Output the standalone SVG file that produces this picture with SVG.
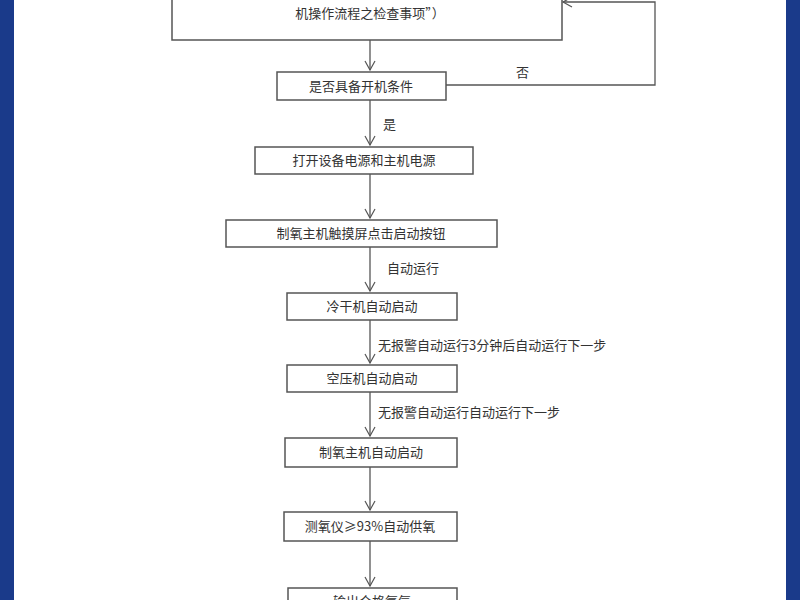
<svg xmlns="http://www.w3.org/2000/svg" width="800" height="600" viewBox="0 0 800 600">
<defs>
<marker id="ah" markerWidth="12" markerHeight="12" refX="10" refY="6" orient="auto" markerUnits="userSpaceOnUse">
<path d="M1,1 L10,6 L1,11" fill="none" stroke="#555" stroke-width="1.2"/>
</marker>
<style>
.b{fill:#fff;stroke:#555;stroke-width:1.5}
.t{font-family:"Noto Sans CJK SC",sans-serif;font-size:13px;fill:#333;text-anchor:middle}
.l{font-family:"Noto Sans CJK SC",sans-serif;font-size:13px;fill:#333}
.c{fill:none;stroke:#555;stroke-width:1.3}
</style>
</defs>
<rect width="800" height="600" fill="#fff"/>
<rect x="0" y="0" width="14" height="600" fill="#1a3a8a"/>
<rect x="786" y="0" width="14" height="600" fill="#1a3a8a"/>
<g id="connectors">
<path class="c" d="M370,40 V70" marker-end="url(#ah)"/>
<path class="c" d="M446,85 H655 V2 H563" marker-end="url(#ah)"/>
<path class="c" d="M370,100 V145" marker-end="url(#ah)"/>
<path class="c" d="M370,174 V218" marker-end="url(#ah)"/>
<path class="c" d="M370,247 V291" marker-end="url(#ah)"/>
<path class="c" d="M370,320 V363" marker-end="url(#ah)"/>
<path class="c" d="M370,392 V436" marker-end="url(#ah)"/>
<path class="c" d="M370,467 V510" marker-end="url(#ah)"/>
<path class="c" d="M370,541 V586" marker-end="url(#ah)"/>
<text class="l" x="516" y="77">否</text>
<text class="l" x="383" y="129">是</text>
<text class="l" x="387" y="273">自动运行</text>
<text class="l" x="378" y="350">无报警自动运行3分钟后自动运行下一步</text>
<text class="l" x="378" y="417">无报警自动运行自动运行下一步</text>
</g>
<g id="n0"><rect class="b" x="172" y="-20" width="390" height="60"/><text class="t" x="370" y="18">机操作流程之检查事项”）</text></g>
<g id="n1"><rect class="b" x="277" y="72" width="169" height="28"/><text class="t" x="361" y="91">是否具备开机条件</text></g>
<g id="n2"><rect class="b" x="255" y="147" width="218" height="27"/><text class="t" x="364" y="165">打开设备电源和主机电源</text></g>
<g id="n3"><rect class="b" x="226" y="220" width="271" height="27"/><text class="t" x="361" y="238">制氧主机触摸屏点击启动按钮</text></g>
<g id="n4"><rect class="b" x="287" y="293" width="170" height="27"/><text class="t" x="372" y="311">冷干机自动启动</text></g>
<g id="n5"><rect class="b" x="287" y="365" width="170" height="27"/><text class="t" x="372" y="383">空压机自动启动</text></g>
<g id="n6"><rect class="b" x="285" y="438" width="172" height="29"/><text class="t" x="371" y="457">制氧主机自动启动</text></g>
<g id="n7"><rect class="b" x="284" y="512" width="173" height="29"/><text class="t" x="370" y="531">测氧仪≥93%自动供氧</text></g>
<g id="n8"><rect class="b" x="288" y="588" width="169" height="30"/><text class="t" x="372" y="606">输出合格氧气</text></g>
</svg>
